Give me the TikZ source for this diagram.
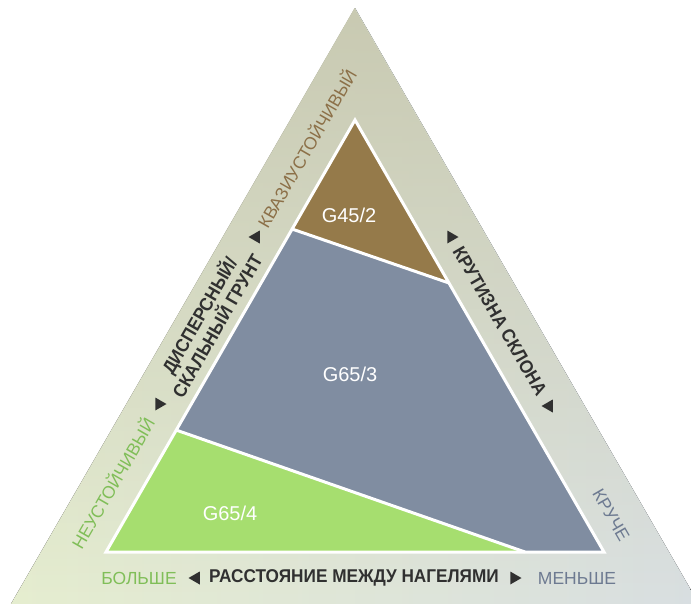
\documentclass[tikz,border=0pt]{standalone}
\usepackage{fontspec}
\setmainfont{Liberation Sans}
\newfontfamily\axisfont[FakeStretch=0.93]{Liberation Sans Bold}
\usetikzlibrary{fadings}

\definecolor{bandTop}{HTML}{C9CAB2}
\definecolor{bandLeft}{HTML}{E6EED0}
\definecolor{bandRight}{HTML}{D9DFE2}
\definecolor{zoneBrown}{HTML}{957A4A}
\definecolor{zoneSlate}{HTML}{808DA1}
\definecolor{zoneGreen}{HTML}{A6DE6F}
\definecolor{txtDark}{HTML}{303030}
\definecolor{txtGreen}{HTML}{80BE58}
\definecolor{txtBrown}{HTML}{8C7048}
\definecolor{txtSlate}{HTML}{6D7A91}

\tikzset{
  zonelabel/.style={text=white, font=\fontsize{20}{23}\selectfont, inner sep=0pt},
  axislabel/.style={text=txtDark, font=\axisfont\fontsize{18.5}{20.5}\selectfont,
    align=center, inner sep=0pt},
  endlabel/.style={font=\fontsize{17.5}{20}\selectfont, inner sep=0pt},
  marker/.pic={\fill[txtDark] (0:7.5) -- (120:7.5) -- (240:7.5) -- cycle;},
  divider/.style={draw=white, line width=3pt, line join=miter}
}

\begin{document}
\begin{tikzpicture}[x=1pt,y=-1pt]
\useasboundingbox (0,0) rectangle (691,603);

% outer band
\coordinate (oA) at (355,8);
\coordinate (oL) at (8.6,608);
\coordinate (oR) at (701.4,608);
\begin{scope}
  \clip (0,0) rectangle (691,603);
  \fill[left color=bandLeft, right color=bandRight] (oA) -- (oL) -- (oR) -- cycle;
  \fill[bandTop, path fading=south] (oA) -- (oL) -- (oR) -- cycle;
\end{scope}

% inner triangle and its three zones
\coordinate (iA) at (355,120);
\coordinate (iL) at (106,552);
\coordinate (iR) at (604,552);
\coordinate (p1) at (292,229);
\coordinate (p2) at (449,283);
\coordinate (p3) at (176,430);
\coordinate (p4) at (525,552);

\fill[zoneBrown] (iA) -- (p1) -- (p2) -- cycle;
\fill[zoneSlate] (p1) -- (p3) -- (p4) -- (iR) -- (p2) -- cycle;
\fill[zoneGreen] (p3) -- (iL) -- (p4) -- cycle;
\draw[divider] (p1) -- (p2) (p3) -- (p4);
\draw[divider] (iA) -- (iL) -- (iR) -- cycle;

% zone labels
\node[zonelabel] (g452) at (349,215) {G45/2};
\node[zonelabel] (g653) at (350,374) {G65/3};
\node[zonelabel] (g654) at (230,513) {G65/4};

% bottom axis
\node[endlabel, text=txtGreen] (more) at (139,578) {БОЛЬШЕ};
\node[axislabel] (spacing) at (354,578) {РАССТОЯНИЕ МЕЖДУ НАГЕЛЯМИ};
\node[endlabel, text=txtSlate] (less) at (577,578) {МЕНЬШЕ};
\pic[rotate=180] at (196,578) {marker};
\pic[rotate=0] at (514,578) {marker};

% left axis
\node[endlabel, text=txtGreen, rotate=60] (unstable) at (112,483) {НЕУСТОЙЧИВЫЙ};
\node[axislabel, rotate=60] (soil) at (207,320) {ДИСПЕРСНЫЙ/\\СКАЛЬНЫЙ ГРУНТ};
\node[endlabel, text=txtBrown, rotate=60] (quasi) at (306,148) {КВАЗИУСТОЙЧИВЫЙ};
\pic[rotate=240] at (159,404) {marker};
\pic[rotate=60] at (256,237) {marker};

% right axis
\node[axislabel, rotate=-60] (slope) at (500,321) {КРУТИЗНА СКЛОНА};
\node[endlabel, text=txtSlate, rotate=-60] (steeper) at (611,515) {КРУЧЕ};
\pic[rotate=120] at (451,237) {marker};
\pic[rotate=-60] at (549,406) {marker};

\end{tikzpicture}
\end{document}
